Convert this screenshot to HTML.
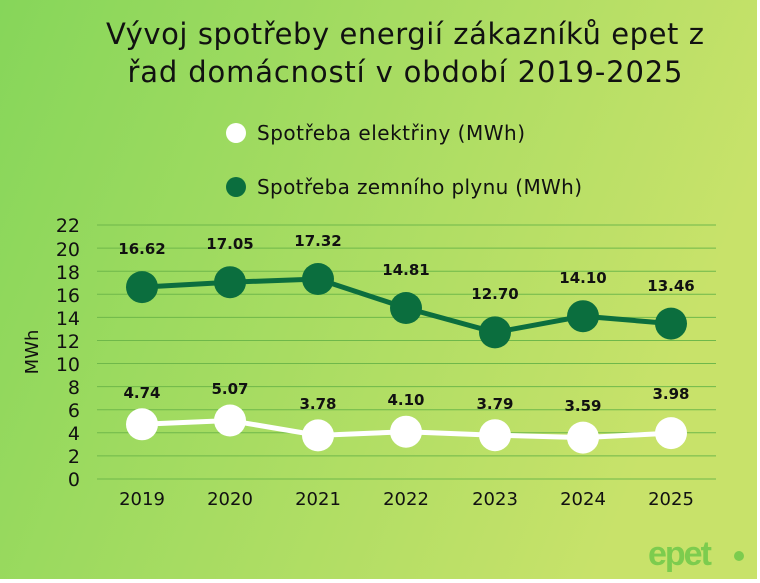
<!DOCTYPE html><html><head><meta charset="utf-8"><style>
body{margin:0;width:760px;height:583px;overflow:hidden;background:#fff}
svg{display:block;font-family:"DejaVu Sans","Liberation Sans",sans-serif}
</style></head><body>
<svg width="760" height="583" viewBox="0 0 760 583">
<defs><linearGradient id="g" x1="0" y1="0" x2="1" y2="0.3"><stop offset="0" stop-color="#86d65a"/><stop offset="1" stop-color="#c8e26a"/></linearGradient></defs>
<rect x="0" y="0" width="757" height="579" fill="url(#g)"/>
<text x="405" y="44" font-size="29" text-anchor="middle" fill="#111" textLength="598">Vývoj spotřeby energií zákazníků epet z</text>
<text x="405" y="82" font-size="29" text-anchor="middle" fill="#111" textLength="555">řad domácností v období 2019-2025</text>
<circle cx="236" cy="133" r="10" fill="#fff"/>
<text x="257" y="140" font-size="20" fill="#111" textLength="268">Spotřeba elektřiny (MWh)</text>
<circle cx="236" cy="187" r="10" fill="#0b6e3e"/>
<text x="257" y="194" font-size="20" fill="#111" textLength="325">Spotřeba zemního plynu (MWh)</text>
<g stroke="#6fb84a" stroke-width="1">
<line x1="97" x2="716" y1="479" y2="479"/><line x1="97" x2="716" y1="455.9" y2="455.9"/><line x1="97" x2="716" y1="432.8" y2="432.8"/><line x1="97" x2="716" y1="409.7" y2="409.7"/><line x1="97" x2="716" y1="386.6" y2="386.6"/><line x1="97" x2="716" y1="363.5" y2="363.5"/><line x1="97" x2="716" y1="340.5" y2="340.5"/><line x1="97" x2="716" y1="317.4" y2="317.4"/><line x1="97" x2="716" y1="294.3" y2="294.3"/><line x1="97" x2="716" y1="271.2" y2="271.2"/><line x1="97" x2="716" y1="248.1" y2="248.1"/><line x1="97" x2="716" y1="225" y2="225"/>
</g>
<g font-size="19" fill="#111" text-anchor="end">
<text x="80" y="486">0</text><text x="80" y="463">2</text><text x="80" y="440">4</text><text x="80" y="417">6</text><text x="80" y="394">8</text><text x="80" y="371">10</text><text x="80" y="348">12</text><text x="80" y="325">14</text><text x="80" y="302">16</text><text x="80" y="279">18</text><text x="80" y="256">20</text><text x="80" y="232">22</text>
</g>
<text transform="translate(38,352) rotate(-90)" font-size="18" text-anchor="middle" fill="#111">MWh</text>
<g font-size="18" fill="#111" text-anchor="middle">
<text x="142" y="505">2019</text><text x="230" y="505">2020</text><text x="318" y="505">2021</text><text x="406" y="505">2022</text><text x="495" y="505">2023</text><text x="583" y="505">2024</text><text x="671" y="505">2025</text>
</g>
<polyline points="142,287.1 230,282.2 318,279.0 406,308.0 495,332.4 583,316.2 671,323.6" fill="none" stroke="#0b6e3e" stroke-width="5"/>
<g fill="#0b6e3e"><circle cx="142" cy="287.1" r="16"/><circle cx="230" cy="282.2" r="16"/><circle cx="318" cy="279" r="16"/><circle cx="406" cy="308" r="16"/><circle cx="495" cy="332.4" r="16"/><circle cx="583" cy="316.2" r="16"/><circle cx="671" cy="323.6" r="16"/></g>
<polyline points="142,424.3 230,420.5 318,435.4 406,431.7 495,435.2 583,437.6 671,433.1" fill="none" stroke="#fff" stroke-width="5"/>
<g fill="#fff"><circle cx="142" cy="424.3" r="16"/><circle cx="230" cy="420.5" r="16"/><circle cx="318" cy="435.4" r="16"/><circle cx="406" cy="431.7" r="16"/><circle cx="495" cy="435.2" r="16"/><circle cx="583" cy="437.6" r="16"/><circle cx="671" cy="433.1" r="16"/></g>
<g font-size="15" font-weight="bold" fill="#111" text-anchor="middle">
<text x="142" y="254">16.62</text><text x="230" y="249">17.05</text><text x="318" y="246">17.32</text><text x="406" y="275">14.81</text><text x="495" y="299">12.70</text><text x="583" y="283">14.10</text><text x="671" y="291">13.46</text>
<text x="142" y="398">4.74</text><text x="230" y="394">5.07</text><text x="318" y="409">3.78</text><text x="406" y="405">4.10</text><text x="495" y="409">3.79</text><text x="583" y="411">3.59</text><text x="671" y="399">3.98</text>
</g>
<text x="648" y="565" font-size="34" font-weight="bold" fill="#7ccc4e" letter-spacing="-2" font-family="Liberation Sans,sans-serif">epet</text>
<circle cx="739" cy="556" r="5" fill="#7ccc4e"/>
</svg>
</body></html>
